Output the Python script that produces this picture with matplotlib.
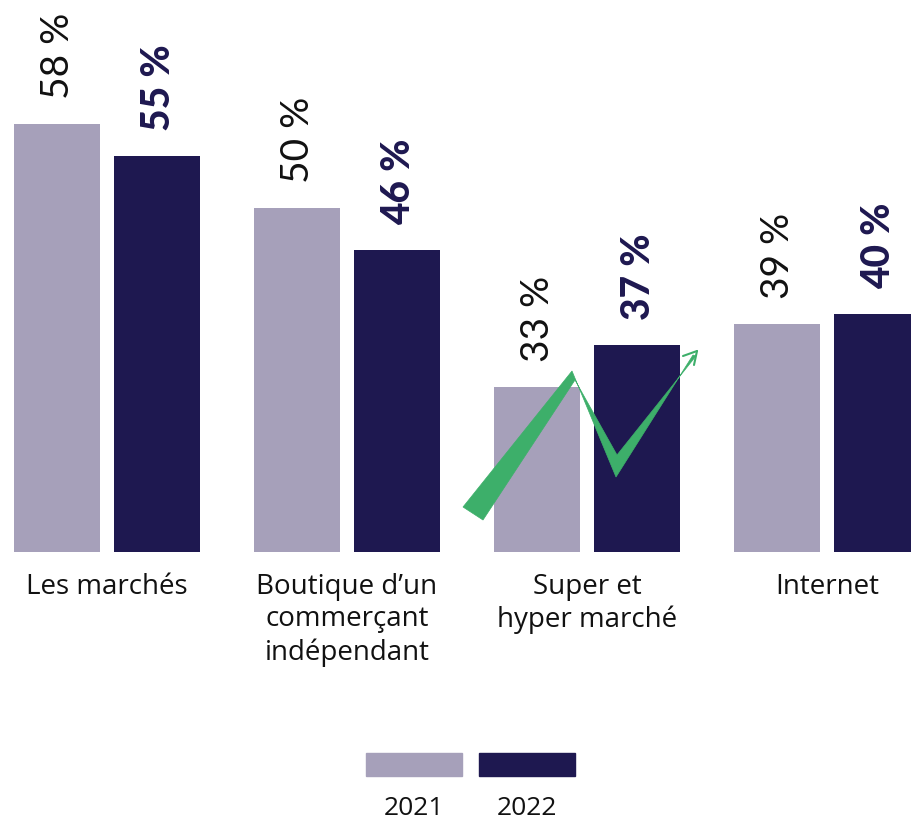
import matplotlib.pyplot as plt
from matplotlib.patches import Polygon, Rectangle
import numpy as np

categories = ["Les marchés", "Boutique d\u2019un\ncommerçant\nindépendant", "Super et\nhyper marché", "Internet"]
years = ["2021", "2022"]
values_2021 = [58, 50, 33, 39]
values_2022 = [55, 46, 37, 40]

col_2021 = "#a6a0ba"
col_2022 = "#1e1850"
col_check = "#3daf6a"

plt.rcParams['font.family'] = ['Lato', 'DejaVu Sans']
label_font = ['Open Sans', 'DejaVu Sans']

W, H = 911, 821
fig = plt.figure(figsize=(W / 100, H / 100), dpi=100)
ax = fig.add_axes([0, (H - 552) / H, 1, 552 / H])

x = np.arange(len(categories))
bw = 86 / 240
off = 50 / 240

b1 = ax.bar(x - off, values_2021, bw, color=col_2021, bottom=0)
b2 = ax.bar(x + off, values_2022, bw, color=col_2022, bottom=0)

ax.set_xlim(-107 / 240, (911 - 107) / 240)
ax.set_ylim(17.4, 17.4 + 552 / 10.545)
ax.axis('off')

for xi, v in zip(x - off, values_2021):
    ax.annotate(f"{v} %", (xi, v), xytext=(1, 18), textcoords='offset points',
                rotation=90, ha='center', va='bottom', fontsize=28,
                color='#111111', annotation_clip=False)
for xi, v in zip(x + off, values_2022):
    ax.annotate(f"{v} %", (xi, v), xytext=(1, 18), textcoords='offset points',
                rotation=90, ha='center', va='bottom', fontsize=28,
                fontweight='black', color=col_2022, annotation_clip=False)

for xi, lab in zip(x, categories):
    ax.annotate(lab, (xi, 17.4), xytext=(0, -15), textcoords='offset points',
                ha='center', va='top', fontsize=20, color='#111111',
                family=label_font, linespacing=1.22, annotation_clip=False)

# green tick drawn over the "Super et hyper marché" group, in pixel space
def px(pts):
    return [(px_x / W, 1 - px_y / H) for px_x, px_y in pts]

check = [(463, 507), (572, 371), (616, 477), (693, 355), (696, 356),
         (617, 455), (575, 380), (483, 520)]
fig.patches.append(Polygon(px(check), closed=True, transform=fig.transFigure,
                           facecolor=col_check, edgecolor=col_check, lw=0.5))
for seg in ([(697, 351), (683, 356)], [(697, 351), (694, 365)]):
    (x0, y0), (x1, y1) = px(seg)
    fig.add_artist(plt.Line2D([x0, x1], [y0, y1], transform=fig.transFigure,
                              color=col_check, lw=1.5, solid_capstyle='round'))

# legend: swatches with year labels underneath
for left, col, lab in ((366, col_2021, years[0]), (479, col_2022, years[1])):
    fig.patches.append(Rectangle((left / W, 1 - 776 / H), 96 / W, 23 / H,
                                 transform=fig.transFigure, color=col))
    fig.text((left + 48) / W, 1 - 808 / H, lab, ha='center', va='center',
             fontsize=19, color='#111111', family=label_font)

fig.savefig("out.png", dpi=100)
